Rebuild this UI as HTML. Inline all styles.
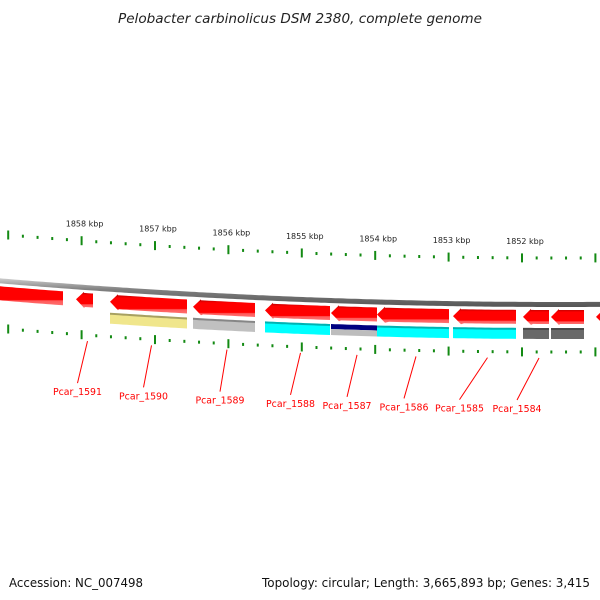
<!DOCTYPE html>
<html><head><meta charset="utf-8"><style>
html,body{margin:0;padding:0;background:#fff;}
svg{display:block;}
text{font-family:"DejaVu Sans","Liberation Sans",sans-serif;}
</style></head><body>
<svg id="chart" width="600" height="600" viewBox="0 0 600 600" xmlns="http://www.w3.org/2000/svg">
<defs>
<linearGradient id="gRed" x1="0" y1="0" x2="0" y2="1">
<stop offset="0" stop-color="#b00000"/><stop offset="0.2" stop-color="#ff0000"/><stop offset="0.75" stop-color="#ff0000"/><stop offset="0.8" stop-color="#ff5a5a"/><stop offset="1" stop-color="#ff7070"/></linearGradient>
<linearGradient id="gBack" x1="0" y1="0" x2="0" y2="1">
<stop offset="0" stop-color="#d0d0d0"/><stop offset="0.4" stop-color="#808080"/><stop offset="1" stop-color="#555"/></linearGradient>
</defs>
<text x="118" y="23" textLength="364" lengthAdjust="spacingAndGlyphs" font-size="13.5" font-style="italic" fill="#222">Pelobacter carbinolicus DSM 2380, complete genome</text>
<g id="marks"></g>
<text x="9" y="587" textLength="134" lengthAdjust="spacingAndGlyphs" font-size="12" fill="#111">Accession: NC_007498</text>
<text x="262" y="587" textLength="328" lengthAdjust="spacingAndGlyphs" font-size="12" fill="#111">Topology: circular; Length: 3,665,893 bp; Genes: 3,415</text>
</svg>
<script>
const majorKbp = [1859, 1858, 1857, 1856, 1855, 1854, 1853, 1852, 1851];
const labelKbp = [1858, 1857, 1856, 1855, 1854, 1853, 1852];
const geneStart = [1859.6, 1858.076, 1857.613, 1856.482, 1855.501, 1854.602, 1853.975, 1852.940, 1851.986, 1851.605, 1850.992];
const geneEnd   = [1858.253, 1857.845, 1856.564, 1855.638, 1854.616, 1853.975, 1852.995, 1852.082, 1851.632, 1851.155, 1850.6];
const geneCog   = ["none", "none", "#f0e68c", "#c0c0c0", "#00ffff", "split", "#00ffff", "#00ffff", "#696969", "#696969", "none"];
const geneNames = ["", "Pcar_1591", "Pcar_1590", "Pcar_1589", "Pcar_1588", "Pcar_1587", "Pcar_1586", "Pcar_1585", "Pcar_1584", "", ""];
const labelShift = [0, -10, -8, -7, -10, -10, -12, -28, -22, 0, 0];

const NS = "http://www.w3.org/2000/svg";
const g = document.getElementById('marks');
const xOf = k => 522 + (1852 - k) * 73.4;
const arcY = (x, off) => 258 - (x - 560) * (x - 560) / 13240 + off;
function mk(tag, attrs) { const e = document.createElementNS(NS, tag); for (const a in attrs) e.setAttribute(a, attrs[a]); g.appendChild(e); return e; }
function band(x1, x2, off, h) {
  const pts = [];
  for (let x = x1; x <= x2; x += 4) pts.push([x, arcY(x, off)]);
  pts.push([x2, arcY(x2, off)]);
  for (let x = x2; x >= x1; x -= 4) pts.push([x, arcY(x, off + h)]);
  pts.push([x1, arcY(x1, off + h)]);
  return pts.map(p => p[0].toFixed(1) + ',' + p[1].toFixed(1)).join(' ');
}

const bb = mk('polygon', {points: band(-5, 605, 44, 5), fill: 'url(#gBack)'});



[0, 94].forEach((off, ri) => {
  for (let k = majorKbp[0]; k >= majorKbp[majorKbp.length - 1] - 0.001; k -= 0.2) {
    const x = xOf(k);
    if (x < 0 || x > 600) continue;
    const isMajor = Math.abs(k - Math.round(k)) < 0.01;
    const len = isMajor ? 9 : 3;
    const y = arcY(x, off);
    const t = mk('rect', {x: x - 1, y: y - len / 2, width: 2, height: len, fill: '#138a13'});
    
    
  }
});
labelKbp.forEach(k => {
  const x = xOf(k);
  const t = mk('text', {x: x + 3, y: arcY(x, -14), 'text-anchor': 'middle', 'font-size': '8', fill: '#222'});
  t.textContent = k + ' kbp';
  
  
});

geneStart.forEach((s, i) => {
  const xl = xOf(s), xr = xOf(geneEnd[i]);
  const off = 52, h = 14;
  const head = Math.min(8, xr - xl);
  const yTop = arcY(xl + head, off), yBot = arcY(xl + head, off + h), yMid = arcY(xl, off + h / 2);
  const pts = [[xl, yMid], [xl + head, yTop - 1]];
  for (let x = xl + head; x <= xr; x += 4) pts.push([x, arcY(x, off)]);
  pts.push([xr, arcY(xr, off)], [xr, arcY(xr, off + h)]);
  for (let x = xr; x >= xl + head; x -= 4) pts.push([x, arcY(x, off + h)]);
  pts.push([xl + head, yBot + 1]);
  const p = mk('polygon', {points: pts.map(q => q[0].toFixed(1) + ',' + q[1].toFixed(1)).join(' '), fill: 'url(#gRed)'});
  
  
  const c = geneCog[i];
  if (c !== 'none') {
    if (c === 'split') {
      const a = mk('polygon', {points: band(xl, xr, 70, 5), fill: '#000080'});
      
      
      const b = mk('polygon', {points: band(xl, xr, 75, 6), fill: '#bdbdbd'});
      
      
    } else {
      const a = mk('polygon', {points: band(xl, xr, 70, 11), fill: c});
      
      
      const sh = mk('polygon', {points: band(xl, xr, 70, 2), fill: '#000', 'fill-opacity': '0.3'});
      
      
    }
  }
  if (geneNames[i]) {
    const cx = (xl + xr) / 2 + 3;
    const tx = cx + labelShift[i];
    const y1 = arcY(cx, 100), y2 = y1 + 42;
    const ln = mk('line', {x1: cx, y1: y1, x2: tx, y2: y2, stroke: '#ff0000', 'stroke-width': '1'});
    
    
    const t = mk('text', {x: tx, y: y2 + 12, 'text-anchor': 'middle', 'font-size': '10', textLength: '49', lengthAdjust: 'spacingAndGlyphs', fill: '#ff0000'});
    t.textContent = geneNames[i];
    
    
  }
});
</script>
</body></html>
